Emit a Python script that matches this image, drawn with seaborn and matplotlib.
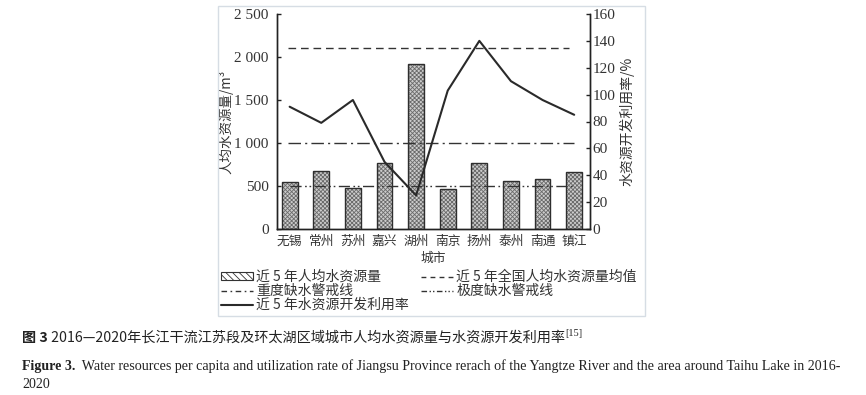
import matplotlib
matplotlib.use('Agg')
import matplotlib.pyplot as plt
import seaborn as sns
import pandas as pd
import numpy as np
from matplotlib.patches import Rectangle, Patch
from matplotlib.lines import Line2D

# ---------------- data ----------------
cities = ['无锡', '常州', '苏州', '嘉兴', '湖州', '南京', '扬州', '泰州', '南通', '镇江']
water_per_capita = [550, 680, 480, 770, 1920, 460, 770, 560, 580, 660]
utilization_rate = [91, 79, 96, 50, 25, 103, 140, 110, 96, 85]
national_avg = 2100
severe_line = 1000
extreme_line = 500
left_ticks = [0, 500, 1000, 1500, 2000, 2500]
left_tick_labels = ['0', '500', '1 000', '1 500', '2 000', '2 500']
right_ticks = [0, 20, 40, 60, 80, 100, 120, 140, 160]
legend_labels = ['近 5 年人均水资源量', '重度缺水警戒线', '近 5 年水资源开发利用率',
                 '近 5 年全国人均水资源量均值', '极度缺水警戒线']
caption_cn_num = '图 3'
caption_cn = ' 2016—2020年长江干流江苏段及环太湖区域城市人均水资源量与水资源开发利用率'
caption_cn_ref = '[15]'
caption_en_bold = 'Figure 3.'
caption_en = ('  Water resources per capita and utilization rate of Jiangsu Province rerach of the '
              'Yangtze River and the area around Taihu Lake in 2016-')
caption_en2 = '2020'

# ---------------- style ----------------
sns.set_theme(style='white')
plt.rcParams['font.family'] = ['Noto Sans CJK SC', 'DejaVu Sans']
plt.rcParams['hatch.linewidth'] = 0.6
plt.rcParams['axes.unicode_minus'] = False

W, H = 866, 395
fig = plt.figure(figsize=(W / 100, H / 100), dpi=100)
fig.patch.set_facecolor('white')

# image frame
fig.add_artist(Rectangle((218 / W, 1 - 316 / H), (645 - 218) / W, (316 - 6) / H,
                         transform=fig.transFigure, fill=False, edgecolor='#d6dde4', lw=1.0))

ax = fig.add_axes([277 / W, 1 - 229 / H, (590 - 277) / W, (229 - 14) / H])
df = pd.DataFrame({'city': cities, 'water': water_per_capita, 'rate': utilization_rate})

sns.barplot(data=df, x='city', y='water', ax=ax, color='#cccccc', width=0.5,
            saturation=1, edgecolor='#6a6a6a', linewidth=0, zorder=2)
bars = list(ax.patches)
for p in bars:
    p.set_hatch('xxxxxxxx')
    ax.add_patch(Rectangle(p.get_xy(), p.get_width(), p.get_height(), fill=False,
                           edgecolor='#2e2e2e', lw=1.0, zorder=3))

line_col = '#333333'
ax.hlines(national_avg, -0.05, 8.85, colors=line_col, linestyles=(0, (5.5, 3.5)), lw=1.0, zorder=4)
ax.hlines(severe_line, -0.05, 9.0, colors=line_col, linestyles=(0, (9, 3, 1.5, 3)), lw=1.0, zorder=4)
ax.hlines(extreme_line, 0.0, 9.0, colors=line_col, linestyles=(0, (8, 2.5, 1.2, 2, 1.2, 2.5)), lw=1.0, zorder=4)

ax.set_ylim(0, 2500)
ax.set_xlim(-0.4, 9.5)
ax.set_yticks(left_ticks)
ax.set_yticklabels(left_tick_labels, family='Liberation Serif', fontsize=11, color='#333')
ax.tick_params(axis='y', direction='in', length=3, pad=6, width=1, color='#222', left=True)
ax.tick_params(axis='x', length=0, pad=4, labelsize=9.2, labelcolor='#333')
ax.set_ylabel('人均水资源量/m³', fontsize=9.7, color='#333')
ax.yaxis.set_label_coords(-0.14, 0.5)
ax.set_xlabel('城市', fontsize=9.2, color='#333')
ax.xaxis.set_label_coords(0.5, -0.105)
ax.spines['top'].set_visible(False)
for s in ['left', 'bottom', 'right']:
    ax.spines[s].set_color('#222')
    ax.spines[s].set_linewidth(1.0)

ax2 = ax.twinx()
sns.lineplot(x=np.arange(len(cities)), y=utilization_rate, ax=ax2, color='#2a2a2a', lw=1.5, zorder=5)
ax2.set_ylim(0, 160)
ax2.set_yticks(right_ticks)
ax2.set_yticklabels([str(v) for v in right_ticks], family='Liberation Serif', fontsize=11, color='#333')
ax2.tick_params(axis='y', direction='in', length=3, pad=2, width=1, color='#222', right=True)
ax2.set_ylabel('水资源开发利用率/%', fontsize=10, color='#333')
ax2.yaxis.set_label_coords(1.093, 0.5)
ax2.spines['top'].set_visible(False)
for s in ['left', 'bottom', 'right']:
    ax2.spines[s].set_color('#222')
    ax2.spines[s].set_linewidth(1.0)
ax.set_xlim(-0.4, 9.5)

# legend
h_bar = Patch(facecolor='white', edgecolor='#333', hatch='\\\\\\\\\\', lw=0.8)
h_sev = Line2D([], [], color=line_col, lw=1.0, linestyle=(0, (4, 2.5, 1.2, 2.5)))
h_rate = Line2D([], [], color='#2a2a2a', lw=1.5)
h_nat = Line2D([], [], color=line_col, lw=1.0, linestyle=(0, (3.5, 3)))
h_ext = Line2D([], [], color=line_col, lw=1.0, linestyle=(0, (4, 1.8, 1, 1.5, 1, 1.8)))
fig.legend([h_bar, h_sev, h_rate, h_nat, h_ext], legend_labels, ncol=2, loc='upper left',
           bbox_to_anchor=(221 / W, 1 - 270 / H), frameon=False, fontsize=10,
           handlelength=2.3, handleheight=0.45, handletextpad=0.25, columnspacing=0.85,
           labelspacing=0.0, borderaxespad=0, borderpad=0, labelcolor='#333')

# captions
renderer = fig.canvas.get_renderer()


def run(parts, x, y):
    for s, kw in parts:
        t = fig.text(x, y, s, **kw)
        bb = t.get_window_extent(renderer)
        x = bb.x1 / fig.bbox.width
    return x


cn_kw = dict(fontsize=10.2, color='#222', va='baseline')
x_end = run([(caption_cn_num, dict(cn_kw, weight='bold')), (caption_cn, cn_kw)], 22 / W, 1 - 342 / H)
fig.text(x_end, 1 - 336 / H, caption_cn_ref, fontsize=7.5, color='#222', va='baseline', family='Liberation Serif')

en_kw = dict(fontsize=10.1, color='#222', va='baseline', family='Liberation Serif')
run([(caption_en_bold, dict(en_kw, weight='bold')), (caption_en, en_kw)], 22 / W, 1 - 370 / H)
fig.text(22 / W, 1 - 388 / H, caption_en2, **en_kw)

fig.savefig('out.png', dpi=100, facecolor='white')
